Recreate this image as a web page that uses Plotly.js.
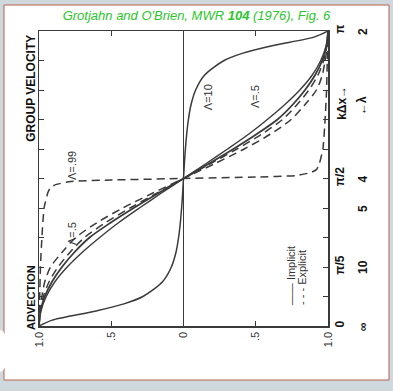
<!DOCTYPE html>
<html>
<head>
<meta charset="utf-8">
<script src="https://cdn.plot.ly/plotly-3.0.1.min.js"></script>
<style>html,body{margin:0;padding:0;background:#cfd8dd;}#chart{width:393px;height:391px;}</style>
</head>
<body>
<div id="chart"></div>
<script>
// kΔx in units of π
const kdxBundle = [0,.05,.1,.15,.2,.25,.3,.35,.4,.45,.5,.55,.6,.65,.7,.75,.8,.85,.9,.95,1];
// solid (implicit) lower curve
const implicitLow  = [1,.987,.95,.89,.805,.70,.58,.45,.305,.155,0,-.155,-.305,-.45,-.58,-.70,-.805,-.89,-.95,-.987,-1];
// solid (implicit) Λ=.5
const implicitHalf = [1,.99,.96,.91,.841,.755,.65,.505,.345,.175,0,-.175,-.345,-.505,-.65,-.755,-.841,-.91,-.96,-.99,-1];
// dashed (explicit) inner
const explicitIn   = [1,.992,.97,.93,.868,.785,.685,.54,.37,.185,0,-.185,-.37,-.54,-.685,-.785,-.868,-.93,-.97,-.992,-1];
// dashed (explicit) Λ=.5 outer
const explicitHalf = [1,.995,.98,.96,.92,.84,.745,.60,.42,.215,0,-.215,-.42,-.60,-.745,-.84,-.92,-.96,-.98,-.995,-1];

const kdxTen = [0,.02,.05,.075,.1,.15,.2,.25,.3,.35,.4,.45,.5,.55,.6,.65,.7,.75,.8,.85,.9,.925,.95,.98,1];
const implicitTen = [1,.908,.613,.412,.281,.145,.084,.052,.034,.022,.013,.006,0,-.006,-.013,-.022,-.034,-.052,-.084,-.145,-.281,-.412,-.613,-.908,-1];

const kdxNinety = [0,.1,.2,.3,.4,.45,.47,.48,.49,.495,.5,.505,.51,.52,.53,.55,.6,.7,.8,.9,1];
const explicitNinety = [1,.995,.99,.98,.965,.94,.92,.88,.78,.5,0,-.5,-.78,-.88,-.92,-.94,-.965,-.98,-.99,-.995,-1];

const xTickVals = [1,.5,0,-.5,-1];
const xTickText = ['1.0','.5','0','.5','1.0'];
const yTickVals = [0,.1,.2,.3,.4,.5,.6,.7,.8,.9,1];
const yTickText = ['<b>0</b>','','<b>π/5</b>','','','<b>π/2</b>','','','','','<b>π</b>'];
const lambdaVals = [0,.2,.4,.5,1];
const lambdaText = ['∞','10','5','4','2'];

const ink = '#3a3a3a';
function solid(x,y,w){return {x:x,y:y,mode:'lines',line:{color:ink,width:w||1.5,shape:'spline',smoothing:0.8},hoverinfo:'skip'};}
function dashed(x,y,s){return {x:x,y:y,mode:'lines',line:{color:ink,width:1.5,dash:'8px,5px',shape:'spline',smoothing:s||0.8},hoverinfo:'skip'};}

const data = [
  solid(implicitLow,kdxBundle,1.4),
  solid(implicitHalf,kdxBundle,1.8),
  dashed(explicitIn,kdxBundle),
  dashed(explicitHalf,kdxBundle),
  solid(implicitTen,kdxTen,1.5),
  dashed(explicitNinety,kdxNinety,0.4)
];

const lab = {family:'Liberation Sans, Arial, sans-serif', size:11, color:'#333'};
const bold = {family:'Liberation Sans, Arial, sans-serif', size:12, color:'#111'};
const annotations = [];
lambdaVals.forEach((v,i)=>annotations.push({xref:'paper',yref:'y',x:1.121,y:v,text:'<b>'+lambdaText[i]+'</b>',showarrow:false,textangle:-90,font:bold,xanchor:'center',yanchor:'middle'}));
annotations.push({xref:'paper',yref:'y',x:1.048,y:0.756,text:'<b>kΔx→</b>',showarrow:false,textangle:-90,font:bold,xanchor:'center',yanchor:'middle'});
annotations.push({xref:'paper',yref:'y',x:1.118,y:0.746,text:'<b>←λ</b>',showarrow:false,textangle:-90,font:bold,xanchor:'center',yanchor:'middle'});
annotations.push({xref:'paper',yref:'y',x:-0.028,y:0.807,text:'<b>GROUP VELOCITY</b>',showarrow:false,textangle:-90,font:{...bold,size:12},xanchor:'center',yanchor:'middle'});
annotations.push({xref:'paper',yref:'y',x:-0.028,y:0.098,text:'<b>ADVECTION</b>',showarrow:false,textangle:-90,font:{...bold,size:11},xanchor:'center',yanchor:'middle'});
annotations.push({xref:'x',yref:'y',x:0.772,y:0.546,text:'Λ=.99',showarrow:false,textangle:-90,font:lab});
annotations.push({xref:'x',yref:'y',x:0.772,y:0.315,text:'Λ=.5',showarrow:false,textangle:-90,font:lab});
annotations.push({xref:'x',yref:'y',x:-0.170,y:0.776,text:'Λ=10',showarrow:false,textangle:-90,font:lab});
annotations.push({xref:'x',yref:'y',x:-0.495,y:0.776,text:'Λ=.5',showarrow:false,textangle:-90,font:lab});
annotations.push({xref:'x',yref:'y',x:-0.744,y:0.169,text:'—— Implicit',showarrow:false,textangle:-90,font:lab});
annotations.push({xref:'x',yref:'y',x:-0.820,y:0.166,text:'- - - Explicit',showarrow:false,textangle:-90,font:lab});

const layout = {
  width:393, height:391,
  margin:{l:39,r:65,t:31,b:65,pad:0},
  paper_bgcolor:'#cfd8dd', plot_bgcolor:'#ffffff',
  showlegend:false,
  title:{text:"<i>Grotjahn and O'Brien, MWR <b>104</b> (1976), Fig. 6</i>",
    font:{family:'Liberation Sans, Arial, sans-serif',size:13,color:'#2cc52c'},
    x:0.5,xanchor:'center',y:0.9616,yanchor:'middle'},
  xaxis:{range:[1,-1],showline:true,linecolor:ink,linewidth:1.5,mirror:'allticks',
    ticks:'inside',ticklen:5,tickcolor:ink,tickwidth:1,
    tickvals:xTickVals,ticktext:xTickText,tickangle:-90,tickfont:lab,
    showgrid:false,zeroline:true,zerolinecolor:ink,zerolinewidth:1.5,fixedrange:true},
  yaxis:{range:[0,1],side:'right',showline:true,linecolor:ink,linewidth:1.5,mirror:'allticks',
    ticks:'inside',ticklen:5,tickcolor:ink,tickwidth:1,
    tickvals:yTickVals,ticktext:yTickText,tickangle:-90,tickfont:{...bold,size:12},
    showgrid:false,zeroline:false,fixedrange:true},
  shapes:[
    {type:'rect',xref:'paper',yref:'paper',x0:-0.1211,x1:1.2111,y0:-0.1831,y1:1.0881,
      fillcolor:'#ffffff',line:{color:'#b5624f',width:1},layer:'below'},
    {type:'circle',xref:'paper',yref:'paper',x0:-0.1626,x1:-0.1073,y0:-0.156,y1:-0.0136,
      fillcolor:'#ffffff',line:{width:0},layer:'below'}
  ],
  annotations:annotations
};
Plotly.newPlot('chart',data,layout,{displayModeBar:false,staticPlot:true});
</script>
</body>
</html>
